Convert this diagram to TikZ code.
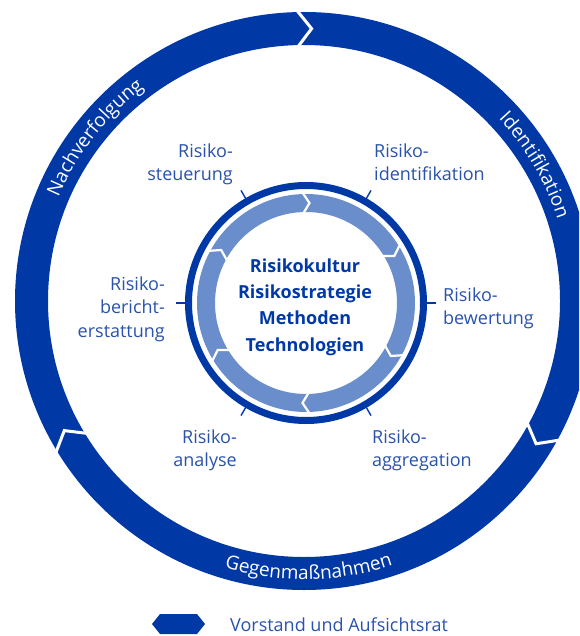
\documentclass[tikz,border=0pt]{standalone}
\usepackage{fontspec}
\setmainfont{Open Sans}
\usetikzlibrary{decorations.text}
\definecolor{dblue}{RGB}{0,57,166}
\definecolor{lblue}{RGB}{106,142,204}
\definecolor{tblue}{RGB}{40,82,172}
\newcommand\ringfont{\fontsize{19}{21}\selectfont\color{white}}
\begin{document}
\begin{tikzpicture}[x=1pt,y=1pt,
  lbl/.style={inner sep=0pt, text=tblue, font=\fontsize{18}{23.5}\selectfont},
  ctr/.style={inner sep=0pt, text=dblue, font=\fontsize{18}{26.3}\selectfont\bfseries, align=center},
  gapline/.style={draw=white, line join=miter, miter limit=20},
  tickline/.style={draw=dblue, line width=1.4pt},
  ringtext/.style={decorate, decoration={text along path, text align=center, text={|\ringfont|#1}}}]
\useasboundingbox (0,0) rectangle (579,-636);
\clip (0,0) rectangle (579,-636);
\coordinate (O) at (304,-301);
\coordinate (I) at (306,-303);
% outer ring
\draw[dblue, line width=33pt] (O) circle (272.5);
\begin{scope}[shift={(O)}]
  \foreach \j in {90,-30,210} {
    \draw[gapline, line width=3pt] (\j+1.6:292) -- (\j-1.6:272.5) -- (\j+1.6:253);
  }
  \path[ringtext=Nachverfolgung] (176:266.5) arc[start angle=176, end angle=108, radius=266.5];
  \path[ringtext=Identifikation] (62:266.5) arc[start angle=62, end angle=-1, radius=266.5];
  \path[ringtext=Gegenmaßnahmen] (-124:278.5) arc[start angle=-124, end angle=-54, radius=278.5];
\end{scope}
% inner ring
\draw[dblue, line width=7pt] (I) circle (117.5);
\draw[lblue, line width=18pt] (I) circle (100);
\begin{scope}[shift={(I)}]
  \foreach \j in {90,30,-30,-90,-150,150} {
    \draw[gapline, line width=2.2pt] (\j+2:111) -- (\j-2:100) -- (\j+2:89);
  }
  \foreach \a in {0,60,...,300} {
    \draw[tickline] (\a:120) -- (\a:130);
  }
\end{scope}
% centre text
\node[ctr, anchor=north] (core) at (305,-258.3) {Risikokultur\\Risikostrategie\\Methoden\\Technologien};
% labels
\node[lbl, anchor=north east, align=right] (steu) at (233,-143.3) {Risiko-\\steuerung};
\node[lbl, anchor=north west, align=left] (iden) at (374,-143.3) {Risiko-\\identifikation};
\node[lbl, anchor=north west, align=left] (bew) at (443,-287.3) {Risiko-\\bewertung};
\node[lbl, anchor=north east, align=right] (ber) at (165,-276.3) {Risiko-\\bericht-\\erstattung};
\node[lbl, anchor=north east, align=right] (ana) at (237,-429.3) {Risiko-\\analyse};
\node[lbl, anchor=north west, align=left] (agg) at (372,-429.3) {Risiko-\\aggregation};
% legend
\fill[dblue] (152,-624) -- (160,-614) -- (197,-614) -- (205,-624) -- (197,-634) -- (160,-634) -- cycle;
\node[lbl, anchor=base west, font=\fontsize{18}{20}\selectfont] (leg) at (230,-631.5) {Vorstand und Aufsichtsrat};
\end{tikzpicture}
\end{document}
